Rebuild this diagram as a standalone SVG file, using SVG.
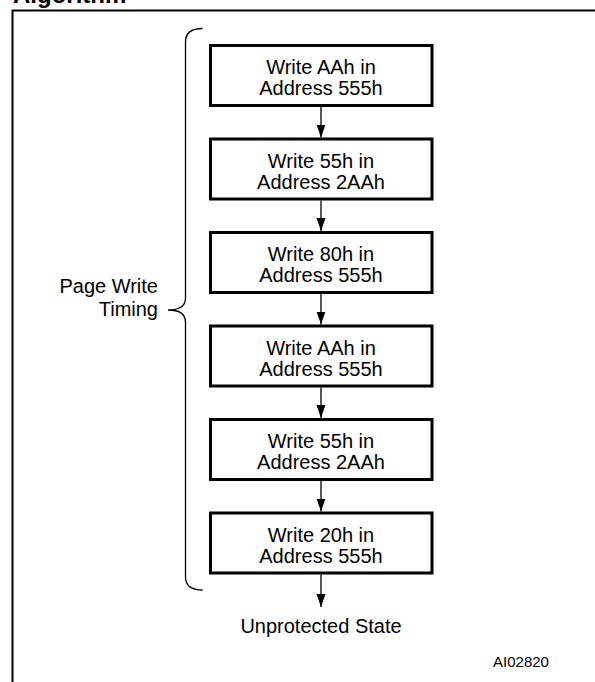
<svg xmlns="http://www.w3.org/2000/svg" width="595" height="682" viewBox="0 0 595 682">
<style>
.box{fill:#fff;stroke:#000;stroke-width:3}
.t{font-family:"Liberation Sans",Arial,sans-serif;font-size:20px;fill:#000}
.c{text-anchor:middle}
.conn{stroke:#000;stroke-width:1.3;fill:none}
</style>
<defs>
<marker id="ah" markerUnits="userSpaceOnUse" markerWidth="13" markerHeight="10" refX="13" refY="5" orient="auto" viewBox="0 0 13 10">
<path d="M0,0.5 L13,5 L0,9.5 Z" fill="#000"/>
</marker>
</defs>
<rect width="595" height="682" fill="#fff"/>
<text x="13" y="3" font-family="'Liberation Sans',Arial,sans-serif" font-size="24" font-weight="bold">Algorithm</text>
<path d="M12.5,682 L12.5,10.5 L595,10.5" fill="none" stroke="#000" stroke-width="2"/>
<g id="brace">
<path class="conn" d="M202.5,28.5 Q185.5,28.5 185.5,42 L185.5,298 Q185.5,310 168,310 Q185.5,310 185.5,322 L185.5,577 Q185.5,590 202.5,590"/>
<text class="t" x="158" y="293" text-anchor="end">Page Write</text>
<text class="t" x="158" y="316" text-anchor="end">Timing</text>
</g>
<g id="connectors">
<line class="conn" x1="321" y1="107" x2="321" y2="137.5" marker-end="url(#ah)"/>
<line class="conn" x1="321" y1="200.5" x2="321" y2="231" marker-end="url(#ah)"/>
<line class="conn" x1="321" y1="294" x2="321" y2="324.5" marker-end="url(#ah)"/>
<line class="conn" x1="321" y1="387.5" x2="321" y2="418" marker-end="url(#ah)"/>
<line class="conn" x1="321" y1="481" x2="321" y2="511.5" marker-end="url(#ah)"/>
<line class="conn" x1="321" y1="574.5" x2="321" y2="607" marker-end="url(#ah)"/>
</g>
<g id="n1"><rect class="box" x="210.5" y="45.5" width="221.5" height="60"/>
<text class="t c" x="321" y="74">Write AAh in</text><text class="t c" x="321" y="95">Address 555h</text></g>
<g id="n2"><rect class="box" x="210.5" y="139" width="221.5" height="60"/>
<text class="t c" x="321" y="167.5">Write 55h in</text><text class="t c" x="321" y="188.5">Address 2AAh</text></g>
<g id="n3"><rect class="box" x="210.5" y="232.5" width="221.5" height="60"/>
<text class="t c" x="321" y="261">Write 80h in</text><text class="t c" x="321" y="282">Address 555h</text></g>
<g id="n4"><rect class="box" x="210.5" y="326" width="221.5" height="60"/>
<text class="t c" x="321" y="354.5">Write AAh in</text><text class="t c" x="321" y="375.5">Address 555h</text></g>
<g id="n5"><rect class="box" x="210.5" y="419.5" width="221.5" height="60"/>
<text class="t c" x="321" y="448">Write 55h in</text><text class="t c" x="321" y="469">Address 2AAh</text></g>
<g id="n6"><rect class="box" x="210.5" y="513" width="221.5" height="60"/>
<text class="t c" x="321" y="541.5">Write 20h in</text><text class="t c" x="321" y="562.5">Address 555h</text></g>
<g id="end"><text class="t c" x="321" y="633">Unprotected State</text></g>
<text x="521" y="667" font-family="'Liberation Sans',Arial,sans-serif" font-size="15" text-anchor="middle">AI02820</text>
</svg>
